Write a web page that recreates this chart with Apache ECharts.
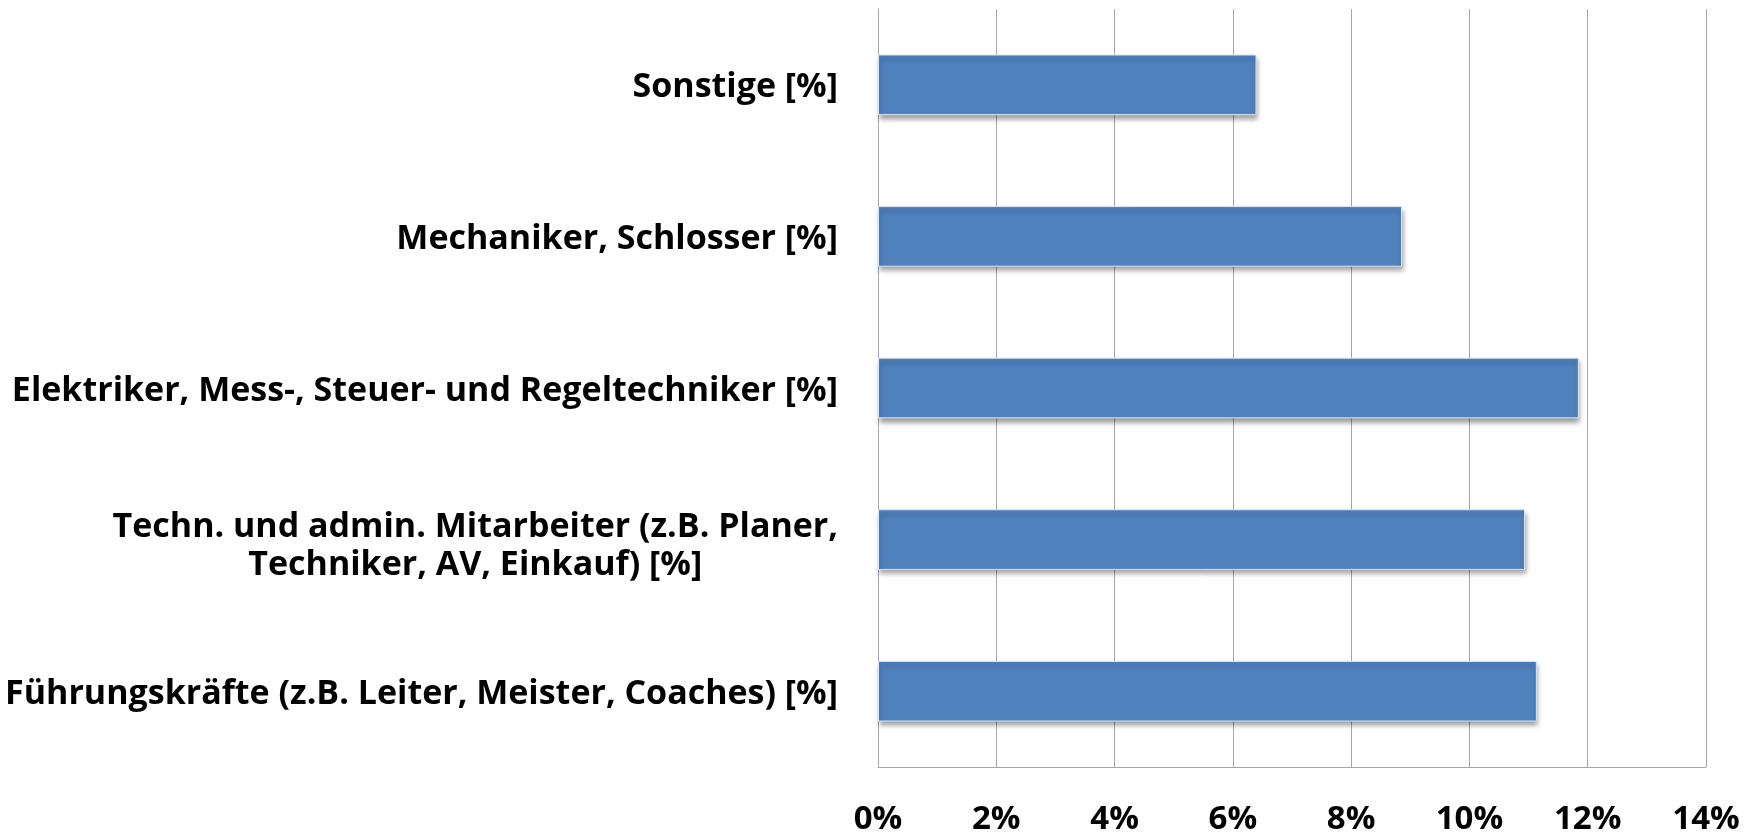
<!DOCTYPE html>
<html>
<head>
<meta charset="utf-8">
<script src="https://cdn.jsdelivr.net/npm/echarts@6/dist/echarts.min.js"></script>
<style>
  html, body { margin: 0; padding: 0; background: #fff; }
  #chart { width: 1757px; height: 834px; }
</style>
</head>
<body>
<div id="chart"></div>
<script>
  // Kategorien (von unten nach oben, wie in der Kategorieachse)
  const categories = [
    'Führungskräfte (z.B. Leiter, Meister, Coaches) [%]',
    'Techn. und admin. Mitarbeiter (z.B. Planer,\nTechniker, AV, Einkauf) [%]',
    'Elektriker, Mess-, Steuer- und Regeltechniker [%]',
    'Mechaniker, Schlosser [%]',
    'Sonstige [%]'
  ];
  // Anteile in Prozent
  const values = [11.14, 10.94, 11.85, 8.86, 6.40];
  // Achsenbeschriftung
  const tickLabels = ['0%', '2%', '4%', '6%', '8%', '10%', '12%', '14%'];

  const labelFont = '"Open Sans", sans-serif';

  let myChart = echarts.init(document.getElementById('chart'));
  myChart.setOption({
    animation: false,
    grid: { left: 878, right: 51, top: 9, bottom: 67, outerBoundsMode: 'none' },
    xAxis: {
      type: 'value',
      min: 0,
      max: 14,
      interval: 2,
      axisLine: { show: true, lineStyle: { color: '#a6a6a6', width: 1 } },
      axisTick: { show: false },
      splitLine: { show: true, lineStyle: { color: '#a6a6a6', width: 1 } },
      axisLabel: {
        margin: 36,
        fontFamily: labelFont,
        fontWeight: 'bold',
        fontSize: 33,
        color: '#000',
        formatter: function (v) { return tickLabels[Math.round(v / 2)]; }
      }
    },
    yAxis: {
      type: 'category',
      // zweizeilige Beschriftung etwas tiefer setzen
      data: categories.map(function (c) {
        return c.indexOf('\n') >= 0
          ? { value: c, textStyle: { padding: [14, 0, 0, 0] } }
          : c;
      }),
      axisLine: { show: true, lineStyle: { color: '#a6a6a6', width: 1 } },
      axisTick: { show: false },
      splitLine: { show: false },
      axisLabel: {
        margin: 40,
        color: '#000',
        padding: [6, 0, 0, 0],
        formatter: function (v) {
          return v.split('\n').map(function (s) { return '{c|' + s + '}'; }).join('\n');
        },
        rich: {
          c: {
            align: 'center',
            fontFamily: labelFont,
            fontWeight: 'bold',
            fontSize: 34,
            lineHeight: 38,
            color: '#000'
          }
        }
      }
    },
    series: [{
      type: 'bar',
      data: values,
      barWidth: '40%',
      itemStyle: {
        color: '#4f81bd',
        borderColor: '#dce6f2',
        borderWidth: 1,
        shadowColor: 'rgba(0,0,0,0.4)',
        shadowBlur: 5,
        shadowOffsetX: 1,
        shadowOffsetY: 4
      }
    }]
  });
</script>
</body>
</html>
